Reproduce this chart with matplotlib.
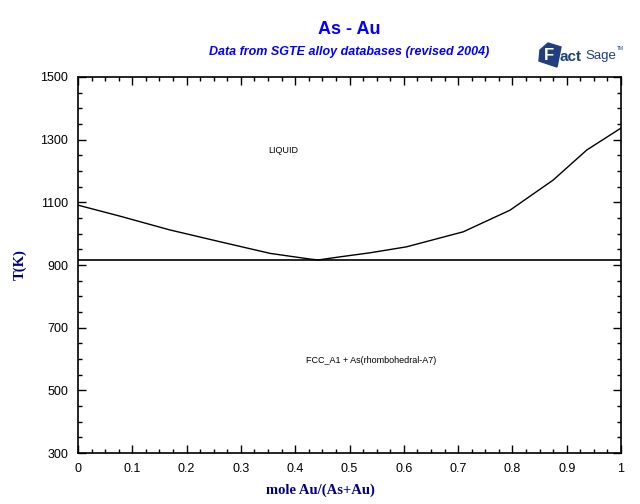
import matplotlib
matplotlib.use('Agg')
import matplotlib.pyplot as plt
from matplotlib.patches import Polygon
from matplotlib.ticker import MultipleLocator

# liquidus (mole fraction Au, T in K)
x_liq = [0.0, 0.077, 0.169, 0.262, 0.354, 0.427, 0.442, 0.4825, 0.538, 0.605, 0.7096, 0.7956, 0.875, 0.937, 1.0]
t_liq = [1091, 1056, 1012, 974, 937, 919, 916, 926, 939, 958, 1006, 1075, 1171, 1267, 1337]
t_eut = 916

x_ticks = [i / 10 for i in range(11)]
x_labels = ['0', '0.1', '0.2', '0.3', '0.4', '0.5', '0.6', '0.7', '0.8', '0.9', '1']
y_ticks = [300, 500, 700, 900, 1100, 1300, 1500]

navy = '#000080'
blue = '#0000FF'
logo_col = '#1F3F7F'

fig = plt.figure(figsize=(6.4, 5.04), dpi=100)
ax = fig.add_axes([78/640, 1-453/504, 543/640, 376/504])

ax.plot(x_liq, t_liq, color='black', lw=1)
ax.axhline(t_eut, color='black', lw=1.2)

ax.set_xlim(0, 1)
ax.set_ylim(300, 1500)
ax.set_xticks(x_ticks)
ax.set_xticklabels(x_labels)
ax.set_yticks(y_ticks)
ax.xaxis.set_minor_locator(MultipleLocator(0.025))
ax.yaxis.set_minor_locator(MultipleLocator(50))
ax.tick_params(which='both', direction='in', top=True, right=True, width=1,
               labelsize=9, labelfontfamily='Liberation Sans')
ax.tick_params(which='major', length=6, pad=7)
ax.tick_params(which='minor', length=3)
for s in ax.spines.values():
    s.set_linewidth(1.2)

fig.text(320/640, 1-490/504, 'mole Au/(As+Au)', family='Liberation Serif', fontweight='bold',
         fontsize=10.5, color=navy, ha='center', va='center')
fig.text(20/640, 1-265/504, 'T(K)', family='Liberation Serif', fontweight='bold',
         fontsize=10.5, color=navy, ha='center', va='center', rotation=90)

ax.text(0.378, 1267, 'LIQUID', fontsize=6.5, ha='center', va='center', family='Liberation Sans')
ax.text(0.54, 594, 'FCC_A1 + As(rhombohedral-A7)', fontsize=6.5, ha='center', va='center',
        family='Liberation Sans')

fig.text(349/640, 1-30/504, 'As - Au', ha='center', va='center', fontsize=13,
         fontweight='bold', color=blue, family='Liberation Sans')
fig.text(349/640, 1-52/504, 'Data from SGTE alloy databases (revised 2004)', ha='center',
         va='center', fontsize=9, fontweight='bold', style='italic', color=blue,
         family='Liberation Sans')

# rough FactSage logo
logo = Polygon([(540/640, 1-50/504), (548/640, 1-43/504), (561/640, 1-47/504),
                (557/640, 1-67/504), (539/640, 1-61/504)], closed=True,
               transform=fig.transFigure, color=logo_col)
fig.patches.append(logo)
fig.text(549/640, 1-56/504, 'F', color='white', fontsize=12, fontweight='bold',
         ha='center', va='center', family='Liberation Sans')
fig.text(559/640, 1-57/504, 'act', color=logo_col, fontsize=11, fontweight='bold',
         ha='left', va='center', family='Liberation Sans')
fig.text(585/640, 1-56/504, 'Sage', color=logo_col, fontsize=9.5, fontstretch='condensed',
         ha='left', va='center', family='Liberation Sans')
fig.text(617/640, 1-48/504, 'TM', color=logo_col, fontsize=3.5,
         ha='left', va='center', family='Liberation Sans')

fig.savefig('out.png', dpi=100)
